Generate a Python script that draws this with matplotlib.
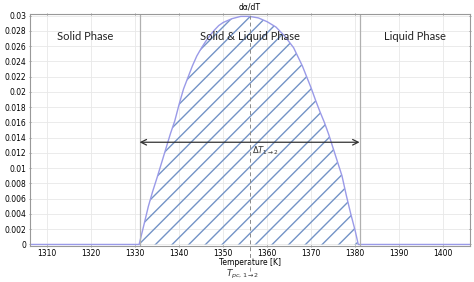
#!/usr/bin/env python3
"""Phase-change distribution dalpha/dT with solid / mushy / liquid regions."""

import matplotlib.pyplot as plt
from matplotlib.ticker import FuncFormatter

# curve
temp = [1306, 1330.9, 1332, 1333, 1334, 1335, 1336, 1337, 1338, 1339, 1340,
        1341, 1342, 1343, 1344, 1345, 1346, 1347, 1348, 1349, 1350, 1352,
        1354, 1356, 1358, 1360, 1362, 1364, 1366, 1368, 1370, 1371, 1372,
        1373, 1374, 1375, 1376, 1377, 1378, 1379, 1380, 1380.7, 1406]
dadt = [0, 0, 0.0026, 0.0050, 0.0070, 0.0088, 0.0107, 0.0126, 0.0145,
        0.0162, 0.0184, 0.0204, 0.0219, 0.0234, 0.0247, 0.0257, 0.0266,
        0.0274, 0.0281, 0.0287, 0.0291, 0.0296, 0.0299, 0.0299, 0.0297,
        0.0292, 0.0285, 0.0273, 0.0258, 0.0234, 0.0205, 0.0189, 0.0174,
        0.0160, 0.0144, 0.0126, 0.0108, 0.0090, 0.0064, 0.0040, 0.0018, 0, 0]

t_solidus, t_liquidus, t_pc = 1331, 1381, 1356
arrow_y = 0.0134

xticks = [1310, 1320, 1330, 1340, 1350, 1360, 1370, 1380, 1390, 1400]
yticks = [0, 0.002, 0.004, 0.006, 0.008, 0.01, 0.012, 0.014, 0.016,
          0.018, 0.02, 0.022, 0.024, 0.026, 0.028, 0.03]

phase_labels = ["Solid Phase", "Solid & Liquid Phase", "Liquid Phase"]
phase_x = [1318.6, 1356.1, 1393.6]
phase_y = 0.0273

fig = plt.figure(figsize=(4.74, 2.82), dpi=100)
ax = fig.add_axes([0.0633, 0.1277, 0.9283, 0.8223])

ax.fill_between(temp, dadt, 0, facecolor="none", edgecolor="#7393c6",
                hatch="//", linewidth=0)
ax.plot(temp, dadt, color="#9a9ae8", lw=1.0)

for t in (t_solidus, t_liquidus):
    ax.axvline(t, color="#b0b0b0", lw=0.9)
ax.axvline(t_pc, ymin=-0.11, ymax=1, color="#8a8a8a", lw=0.7,
           ls=(0, (4, 3)), clip_on=False)

ax.annotate("", xy=(t_solidus, arrow_y), xytext=(t_liquidus, arrow_y),
            arrowprops=dict(arrowstyle="<->", color="#333333", lw=0.9,
                            shrinkA=0, shrinkB=0))
ax.text(t_pc + 3.5, arrow_y - 0.0003, r"$\Delta T_{1\to2}$", fontsize=6,
        ha="center", va="top", color="#333333")
ax.text(t_pc - 1.5, -0.0039, r"$T_{pc,1\to2}$", fontsize=6.5, ha="center",
        va="center", color="#333333")

for lab, x in zip(phase_labels, phase_x):
    ax.text(x, phase_y, lab, fontsize=8, family="Lato", ha="center",
            va="center", color="#222222")

ax.set_xlim(1306.1, 1406.1)
ax.set_ylim(-0.0002, 0.0302)
ax.set_xticks(xticks)
ax.set_yticks(yticks)
ax.yaxis.set_major_formatter(FuncFormatter(lambda v, p: f"{v:g}"))
ax.tick_params(labelsize=5.5, length=2, width=0.5, color="#777777",
               top=True, right=True, direction="inout", pad=1.5)
ax.grid(True, color="#e8e8e8", lw=0.6)
ax.set_axisbelow(True)
for s in ax.spines.values():
    s.set_color("#999999")
    s.set_linewidth(0.8)

ax.set_xlabel("Temperature [K]", fontsize=5.5, va="center")
ax.xaxis.set_label_coords(0.5, -0.07)
ax.set_title("dα/dT", fontsize=5.5, pad=3)

fig.savefig("out.png", dpi=100)
